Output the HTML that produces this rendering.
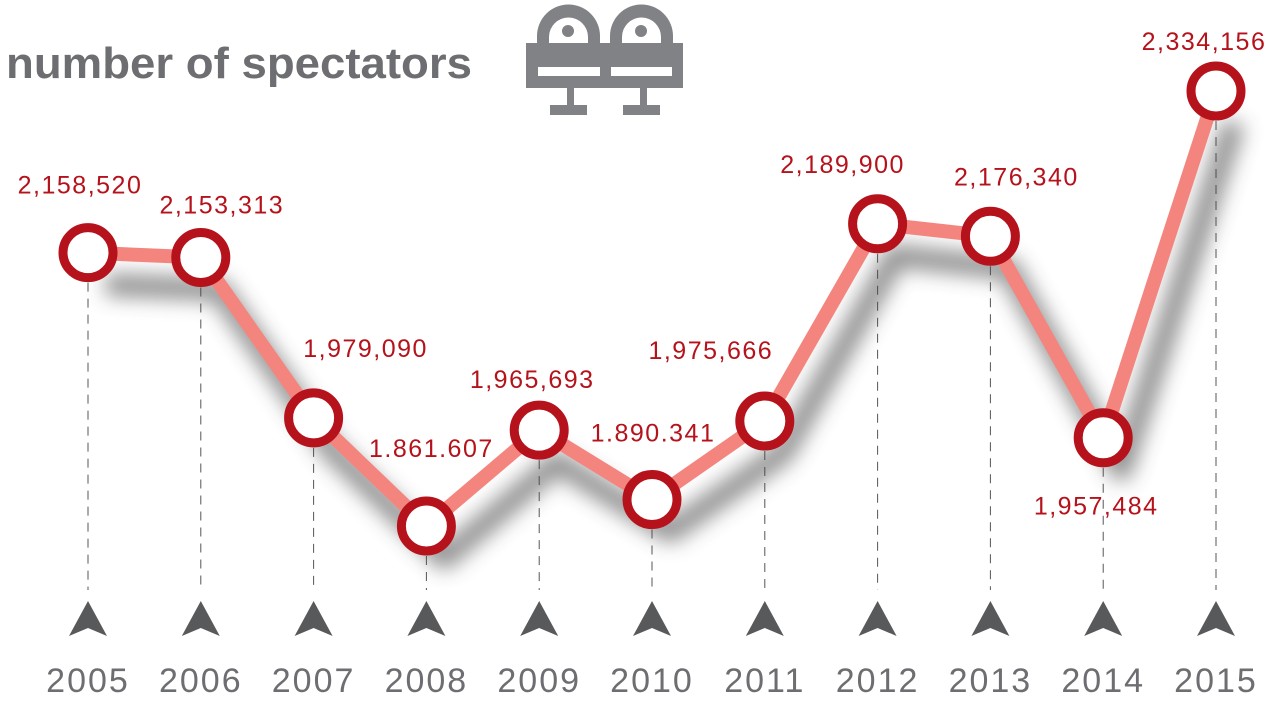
<!DOCTYPE html>
<html><head><meta charset="utf-8"><style>
html,body{margin:0;padding:0;background:#fff;}
svg{display:block;}
</style></head><body>
<svg id="chart" width="1274" height="705" viewBox="0 0 1274 705">
<defs>
<filter id="blur" x="-20%" y="-20%" width="140%" height="140%"><feGaussianBlur stdDeviation="10"/></filter>
</defs>
<text x="6" y="78" font-family="Liberation Sans, sans-serif" font-weight="bold" font-size="44" fill="#6d6e71" textLength="466" lengthAdjust="spacingAndGlyphs">number of spectators</text>
<g fill="#808285">
  <g id="seat">
    <path d="M537,43 L537,36 A31,31 0 0 1 600,36 L600,43 Z M549,55 L588,55 L588,37 A19.5,19.5 0 0 0 549,37 Z" fill-rule="evenodd"/>
    <circle cx="568" cy="31" r="6"/>
    <rect x="567" y="88" width="7" height="18"/>
    <rect x="550" y="105" width="37" height="10"/>
  </g>
  <use href="#seat" transform="translate(73,0)"/>
  <path d="M526,43 H683 V88 H526 Z M538,67 V76 H600 V67 Z M611,67 V76 H672 V67 Z" fill-rule="evenodd"/>
</g>
<g id="axis"></g>
<g id="shadow" filter="url(#blur)" opacity="0.6"></g>
<g id="series"></g>
<g id="labels"></g>
</svg>
<script>
const years = ['2005','2006','2007','2008','2009','2010','2011','2012','2013','2014','2015'];
const values = [2158520,2153313,1979090,1861607,1965693,1890341,1975666,2189900,2176340,1957484,2334156];
const valueLabels = ['2,158,520','2,153,313','1,979,090','1.861.607','1,965,693','1.890.341','1,975,666','2,189,900','2,176,340','1,957,484','2,334,156'];
const labelDx = [-8,21,52,5,-7,1,-54,-35,26,-7,-12];
const labelDy = [-59,-44,-61,-69,-42,-58,-62,-51,-51,77,-41];

const NS='http://www.w3.org/2000/svg';
function xScale(i){ return 88 + i*(1216-88)/(years.length-1); }
function yScale(v){ return 526 - (v-1861607)*(526-91)/(2334156-1861607); }
function mk(tag, attrs, parent){ const e=document.createElementNS(NS,tag); for(const k in attrs) e.setAttribute(k,attrs[k]); parent.appendChild(e); return e; }

const axis=document.getElementById('axis'), shadow=document.getElementById('shadow'), series=document.getElementById('series'), labels=document.getElementById('labels');
const pts = values.map((v,i)=>[xScale(i), yScale(v)]);

years.forEach((y,i)=>{
  const x=xScale(i);
  const d=mk('line',{x1:x,y1:pts[i][1]+30,x2:x,y2:590,stroke:'#555','stroke-width':1,'stroke-dasharray':'9 7'},axis);
  
  
  const t=mk('path',{d:`M${x},601 L${x+19},636 L${x},628 L${x-19},636 Z`,fill:'#58595b'},axis);
  
  
  const tx=mk('text',{x:x,y:692,'text-anchor':'middle','font-family':'Liberation Sans, sans-serif','font-size':34,'letter-spacing':2,fill:'#6d6e71'},axis);
  tx.textContent=y;
  
  
});

const path = pts.map((p,i)=>(i?'L':'M')+p[0]+','+p[1]).join(' ');
const sh=mk('path',{d:path,fill:'none',stroke:'#444','stroke-width':22,'stroke-linejoin':'round',transform:'translate(18,32)'},shadow);


const ln=mk('path',{d:path,fill:'none',stroke:'#f4857e','stroke-width':14,'stroke-linejoin':'round'},series);



pts.forEach((p,i)=>{
  const c=mk('circle',{cx:p[0],cy:p[1],r:25,fill:'#fff',stroke:'#b5121b','stroke-width':9},series);
  
  
  const t=mk('text',{x:p[0]+labelDx[i],y:p[1]+labelDy[i],'text-anchor':'middle','font-family':'Liberation Sans, sans-serif','font-size':25,'letter-spacing':1.5,fill:'#b5121b'},labels);
  t.textContent=valueLabels[i];
  
  
});
</script>
</body></html>
